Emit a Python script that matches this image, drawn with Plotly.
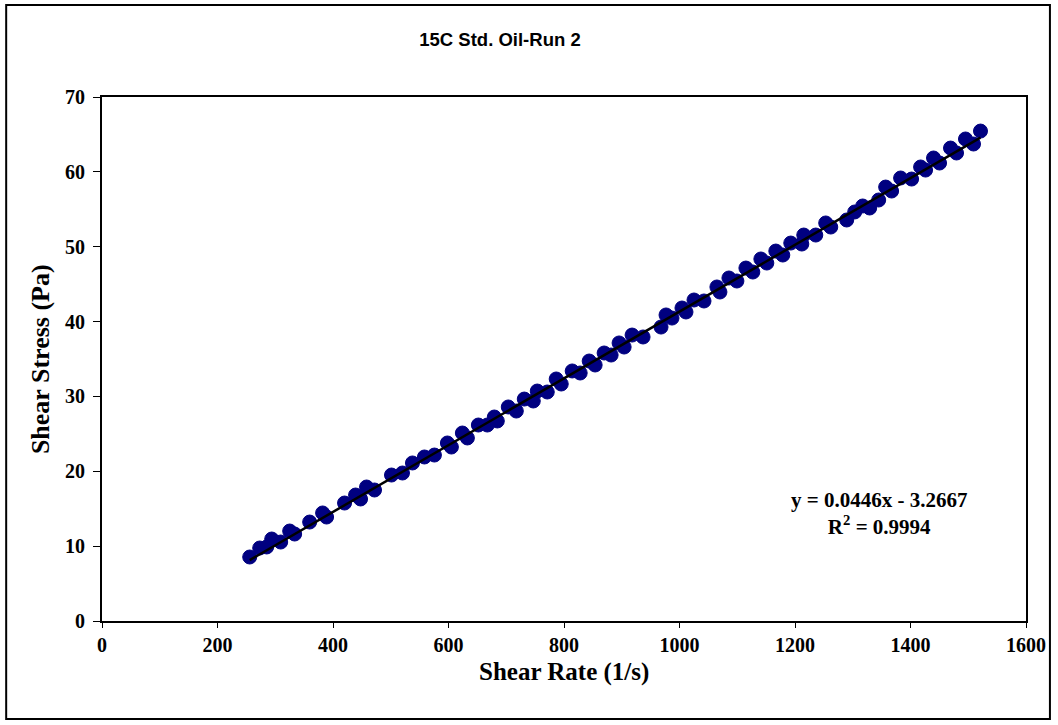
import plotly.graph_objects as go

# Data
shear_rate = [255.8, 273.1, 285.2, 293.9, 309.4, 325.0, 333.6, 359.6, 382.0, 388.9,
              420.0, 439.1, 447.7, 458.1, 471.9, 501.3, 520.3, 537.6, 558.3, 575.6,
              598.1, 605.0, 624.0, 632.7, 651.7, 667.2, 679.3, 684.5, 703.5, 717.4,
              731.2, 746.8, 753.7, 771.0, 786.5, 795.2, 814.2, 828.0, 843.6, 853.9,
              869.5, 881.6, 895.4, 904.1, 917.9, 936.9, 968.0, 976.7, 987.0, 1004.3,
              1011.2, 1025.1, 1042.4, 1064.8, 1070.0, 1085.6, 1099.4, 1115.0, 1127.0, 1140.9,
              1151.2, 1166.8, 1178.9, 1192.7, 1211.8, 1215.2, 1236.0, 1253.2, 1261.9, 1289.5,
              1303.4, 1317.2, 1329.3, 1344.9, 1357.0, 1367.3, 1382.9, 1401.9, 1417.5, 1426.1,
              1439.9, 1450.3, 1469.3, 1479.7, 1495.2, 1509.1, 1521.2]
shear_stress = [8.55, 9.75, 9.89, 10.95, 10.55, 12.02, 11.62, 13.22, 14.43, 13.89,
                15.76, 16.83, 16.30, 17.90, 17.50, 19.50, 19.77, 21.11, 21.91, 22.17,
                23.78, 23.24, 25.11, 24.45, 26.18, 26.18, 27.25, 26.72, 28.59, 28.05,
                29.65, 29.39, 30.72, 30.59, 32.33, 31.66, 33.40, 33.13, 34.73, 34.20,
                35.80, 35.53, 37.14, 36.60, 38.20, 37.94, 39.27, 40.88, 40.47, 41.81,
                41.28, 42.88, 42.75, 44.62, 43.95, 45.82, 45.42, 47.15, 46.62, 48.36,
                47.82, 49.42, 48.89, 50.49, 50.36, 51.56, 51.56, 53.17, 52.63, 53.57,
                54.64, 55.44, 55.17, 56.24, 57.97, 57.44, 59.18, 59.04, 60.65, 60.24,
                61.85, 61.18, 63.18, 62.52, 64.39, 63.72, 65.45]

slope = 0.0446
intercept = -3.2667
r_squared = 0.9994

x_ticks = [0, 200, 400, 600, 800, 1000, 1200, 1400, 1600]
y_ticks = [0, 10, 20, 30, 40, 50, 60, 70]

serif = "Liberation Serif, Times New Roman, serif"

trend_x = [min(shear_rate), max(shear_rate)]
trend_y = [slope * v + intercept for v in trend_x]

fig = go.Figure()
fig.add_trace(go.Scatter(
    x=shear_rate, y=shear_stress, mode="markers",
    marker=dict(size=14, color="#000080", line=dict(color="#000080", width=1)),
    showlegend=False, hoverinfo="x+y"))
fig.add_trace(go.Scatter(
    x=trend_x, y=trend_y, mode="lines",
    line=dict(color="black", width=2.5), showlegend=False))

axis_common = dict(
    showgrid=False, zeroline=False, showline=True, linecolor="black", linewidth=2,
    mirror=True, ticks="outside", tickwidth=1, tickcolor="black",
    tickfont=dict(family=serif, size=20, color="black", weight="bold"))

fig.update_xaxes(range=[0, 1600], tickvals=x_ticks, ticklen=5, **axis_common)
fig.update_yaxes(range=[0, 70], tickvals=y_ticks, ticklen=7, ticklabelstandoff=4, **axis_common)

fig.update_layout(
    width=1058, height=725,
    margin=dict(l=102, r=30, t=97, b=104),
    paper_bgcolor="white", plot_bgcolor="white",
    title=dict(text="15C Std. Oil-Run 2", x=500 / 1058, xref="container", xanchor="center",
               y=1 - 40 / 725, yref="container", yanchor="middle",
               font=dict(family="Liberation Sans, Arial, sans-serif", size=18.5, color="black", weight="bold")),
    annotations=[
        dict(text="Shear Rate (1/s)", x=0.5, xref="paper", y=-0.0973, yref="paper",
             xanchor="center", yanchor="middle", showarrow=False,
             font=dict(family=serif, size=25, color="black", weight="bold")),
        dict(text="Shear Stress (Pa)", x=-0.067, xref="paper", y=0.5, yref="paper",
             xanchor="center", yanchor="middle", textangle=-90, showarrow=False,
             font=dict(family=serif, size=26, color="black", weight="bold")),
        dict(text=f"y = {slope}x - {abs(intercept)}<br>R<sup>2</sup> = {r_squared}",
             x=0.8413, xref="paper", y=0.206, yref="paper", xanchor="center", yanchor="middle",
             align="center", showarrow=False,
             font=dict(family=serif, size=21, color="black", weight="bold")),
    ],
    shapes=[dict(type="rect", xref="paper", yref="paper",
                 x0=-0.1037, x1=1.0259, y0=-0.187, y1=1.1756,
                 line=dict(color="black", width=2), layer="below")],
)

fig.write_html("out.html", config={"displayModeBar": False},
               post_script="document.body.style.margin='0px';")
